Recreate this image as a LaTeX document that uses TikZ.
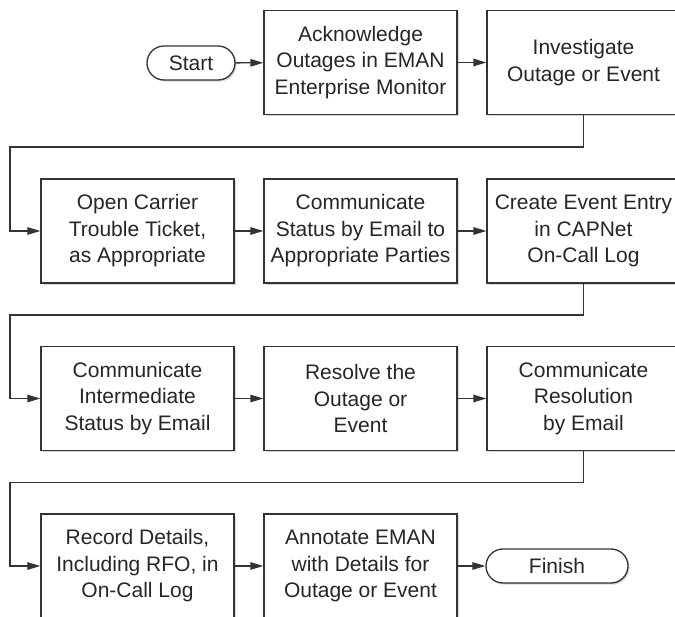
\documentclass[tikz,border=0pt]{standalone}
\usepackage{fontspec}
\setmainfont{Liberation Sans}
\usetikzlibrary{arrows.meta,shadows}
\definecolor{linecol}{HTML}{333333}
\definecolor{textcol}{HTML}{262626}
\tikzset{
  box/.style={draw=linecol, line width=1.3pt, fill=white, text=textcol,
    minimum width=193pt, minimum height=104pt, inner sep=0pt, align=center,
    font=\fontsize{21}{26.5}\selectfont,
    drop shadow={shadow xshift=1.6pt, shadow yshift=-1.6pt, fill=gray!45, opacity=0.7}},
  term/.style={draw=linecol, line width=1.3pt, fill=white, text=textcol,
    minimum height=34pt, rounded corners=17pt, inner sep=0pt, align=center,
    font=\fontsize{21}{26.5}\selectfont,
    drop shadow={shadow xshift=1.6pt, shadow yshift=-1.6pt, fill=gray!45, opacity=0.7}},
  flow/.style={draw=linecol, line width=1.3pt, -{Triangle[length=13pt,width=7.5pt]}},
  link/.style={draw=linecol, line width=1.3pt}
}
\begin{document}
\begin{tikzpicture}[x=1pt,y=-1pt]
\useasboundingbox (0,0) rectangle (675,617);
\clip (0,0) rectangle (675,617);
% row 1
\node[term, minimum width=88pt] (start) at (191,63) {Start};
\node[box] (ack) at (360.5,62.5) {Acknowledge\\Outages in EMAN\\Enterprise Monitor};
\node[box] (inv) at (583.5,62.5) {Investigate\\Outage or Event};
% row 2
\node[box] (open) at (137.5,231) {Open Carrier\\Trouble Ticket,\\as Appropriate};
\node[box] (comm) at (360.5,231) {Communicate\\Status by Email to\\Appropriate Parties};
\node[box] (create) at (583.5,231) {Create Event Entry\\in CAPNet\\On-Call Log};
% row 3
\node[box] (inter) at (137.5,398.5) {Communicate\\Intermediate\\Status by Email};
\node[box] (resolve) at (360.5,398.5) {Resolve the\\Outage or\\Event};
\node[box] (resol) at (583.5,398.5) {Communicate\\Resolution\\by Email};
% row 4
\node[box] (record) at (137.5,566) {Record Details,\\Including RFO, in\\On-Call Log};
\node[box] (annot) at (360.5,566) {Annotate EMAN\\with Details for\\Outage or Event};
\node[term, minimum width=142pt] (finish) at (557,566) {Finish};
% coordinates for returns
\coordinate (r1a) at (583.5,147);
\coordinate (r1b) at (10,147);
\coordinate (r2a) at (583.5,315);
\coordinate (r2b) at (10,315);
\coordinate (r3a) at (583.5,482.5);
\coordinate (r3b) at (10,482.5);
% connectors
\draw[flow] (start) -- (ack);
\draw[flow] (ack) -- (inv);
\draw[flow] (inv.south) -- (r1a) -- (r1b) |- (open.west);
\draw[flow] (open) -- (comm);
\draw[flow] (comm) -- (create);
\draw[flow] (create.south) -- (r2a) -- (r2b) |- (inter.west);
\draw[flow] (inter) -- (resolve);
\draw[flow] (resolve) -- (resol);
\draw[flow] (resol.south) -- (r3a) -- (r3b) |- (record.west);
\draw[flow] (record) -- (annot);
\draw[flow] (annot) -- (finish);
\end{tikzpicture}
\end{document}
